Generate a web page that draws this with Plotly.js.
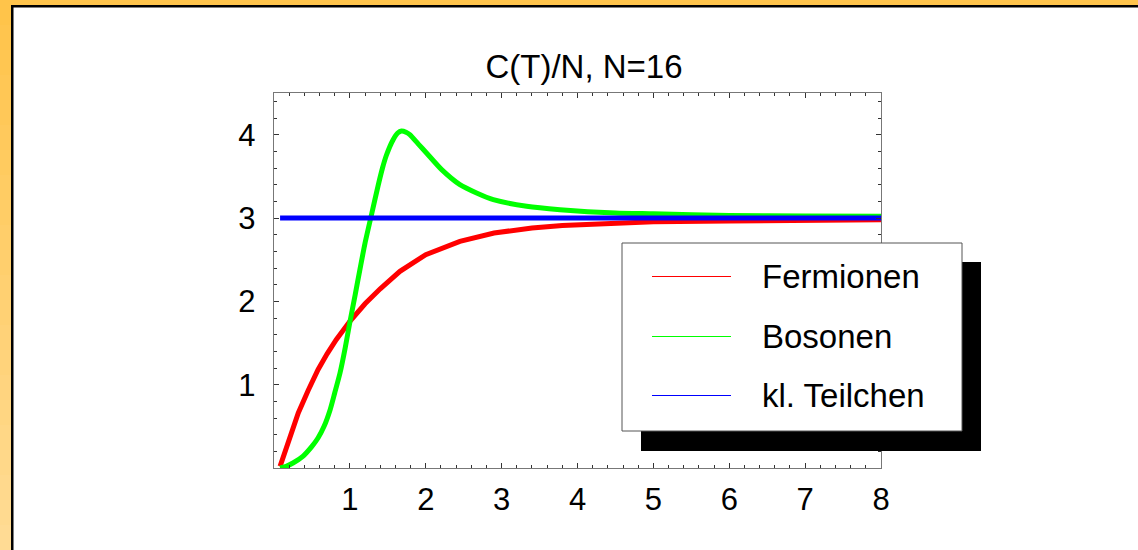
<!DOCTYPE html>
<html>
<head>
<meta charset="utf-8">
<script src="https://cdn.plot.ly/plotly-3.0.1.min.js"></script>
<style>
  html, body { margin: 0; padding: 0; background: #ffffff; }
  #chart { width: 1138px; height: 550px; }
</style>
</head>
<body>
<div id="chart"></div>
<script>
// ---- data ----
const chartTitle = "C(T)/N, N=16";
const seriesNames = ["Fermionen", "Bosonen", "kl. Teilchen"];
const seriesColors = ["#ff0000", "#00ff00", "#0000ff"];

const fermiT = [0.08, 0.2, 0.32, 0.45, 0.58, 0.7, 0.82, 1.0, 1.2, 1.4, 1.66, 2.0, 2.45, 2.9, 3.4, 3.8, 4.5, 5, 6, 7, 8];
const fermiC = [0.02, 0.35, 0.66, 0.93, 1.18, 1.37, 1.54, 1.76, 1.97, 2.15, 2.36, 2.56, 2.72, 2.82, 2.88, 2.91, 2.94, 2.955, 2.965, 2.975, 2.98];

const boseT = [0.08, 0.16, 0.25, 0.38, 0.5, 0.58, 0.66, 0.74, 0.8, 0.87, 0.94, 1.0, 1.07, 1.13, 1.2, 1.29, 1.37, 1.43, 1.48, 1.57, 1.63, 1.68, 1.74, 1.79, 1.9, 2.01, 2.21, 2.45, 2.67, 2.89, 3.33, 3.77, 4.5, 5, 6, 7, 8];
const boseC = [0.0, 0.02, 0.06, 0.14, 0.26, 0.36, 0.5, 0.7, 0.9, 1.14, 1.45, 1.75, 2.08, 2.37, 2.7, 3.06, 3.38, 3.6, 3.75, 3.94, 4.02, 4.045, 4.03, 4.0, 3.89, 3.78, 3.58, 3.40, 3.30, 3.22, 3.14, 3.10, 3.06, 3.05, 3.03, 3.025, 3.02];

const classT = [0.08, 8];
const classC = [3, 3];

const xTicks = [1, 2, 3, 4, 5, 6, 7, 8];
const yTicks = [1, 2, 3, 4];

// ---- geometry helpers (pixel -> paper) ----
const W = 1138, H = 550;
const M = { l: 274, r: 257, t: 93, b: 82 };
const PW = W - M.l - M.r, PH = H - M.t - M.b;
const px = v => (v - M.l) / PW;
const py = v => (H - M.b - v) / PH;

const traces = [
  { x: fermiT, y: fermiC, name: seriesNames[0], mode: "lines",
    line: { color: seriesColors[0], width: 5 } },
  { x: boseT, y: boseC, name: seriesNames[1], mode: "lines",
    line: { color: seriesColors[1], width: 5, shape: "spline", smoothing: 0.6 } },
  { x: classT, y: classC, name: seriesNames[2], mode: "lines",
    line: { color: seriesColors[2], width: 5 } }
];

const shapes = [];
// orange frame: top band and left band with a vertical gradient
shapes.push({ type: "rect", xref: "paper", yref: "paper", layer: "below",
  x0: px(0), x1: px(W), y0: py(0), y1: py(5.5), fillcolor: "#ffc44c", line: { width: 0 } });
const n = 22;
const c0 = [255, 196, 74], c1 = [255, 219, 148];
for (let i = 0; i < n; i++) {
  const f = i / (n - 1);
  const c = c0.map((a, k) => Math.round(a + (c1[k] - a) * f));
  shapes.push({ type: "rect", xref: "paper", yref: "paper", layer: "below",
    x0: px(0), x1: px(11.5), y0: py(H * i / n), y1: py(H * (i + 1) / n + 1),
    fillcolor: `rgb(${c[0]},${c[1]},${c[2]})`, line: { width: 0 } });
}
// black inner frame lines
shapes.push({ type: "rect", xref: "paper", yref: "paper", layer: "below",
  x0: px(11), x1: px(W), y0: py(5), y1: py(7.5), fillcolor: "#000000", line: { width: 0 } });
shapes.push({ type: "rect", xref: "paper", yref: "paper", layer: "below",
  x0: px(11), x1: px(13.5), y0: py(5), y1: py(H), fillcolor: "#000000", line: { width: 0 } });

// legend: shadow, box, samples
shapes.push({ type: "rect", xref: "paper", yref: "paper", layer: "above",
  x0: px(641), x1: px(981), y0: py(262), y1: py(451), fillcolor: "#000000", line: { width: 0 } });
shapes.push({ type: "rect", xref: "paper", yref: "paper", layer: "above",
  x0: px(622), x1: px(962), y0: py(243), y1: py(431), fillcolor: "#ffffff",
  line: { color: "#555555", width: 1 } });
const rowY = [276.5, 336.5, 395.5];
const annotations = [];
seriesNames.forEach((nm, i) => {
  shapes.push({ type: "line", xref: "paper", yref: "paper", layer: "above",
    x0: px(652), x1: px(731), y0: py(rowY[i]), y1: py(rowY[i]),
    line: { color: seriesColors[i], width: 1 } });
  annotations.push({ xref: "paper", yref: "paper", x: px(760), y: py(rowY[i]),
    xanchor: "left", yanchor: "middle", showarrow: false, text: nm,
    font: { family: "Liberation Sans, Arial, sans-serif", size: 33, color: "#000" } });
});

const axisCommon = {
  showgrid: false, zeroline: false, showline: true, linecolor: "#777777", linewidth: 1.3,
  mirror: "ticks", ticks: "inside", ticklen: 5, tickwidth: 1, tickcolor: "#333333",
  tickfont: { family: "Liberation Sans, Arial, sans-serif", size: 31, color: "#000" },
  fixedrange: true
};

const layout = {
  width: W, height: H,
  margin: M,
  paper_bgcolor: "#ffffff", plot_bgcolor: "#ffffff",
  showlegend: false,
  title: { text: chartTitle, xref: "paper", yref: "container", x: px(584), y: 1 - 66 / H,
    xanchor: "center", yanchor: "middle", pad: { t: 0, b: 0, l: 0, r: 0 },
    font: { family: "Liberation Sans, Arial, sans-serif", size: 33, color: "#000" } },
  xaxis: Object.assign({}, axisCommon, {
    range: [0, 8], tickmode: "array", tickvals: xTicks, ticktext: xTicks.map(String),
    ticklabelstandoff: 3,
    minor: { dtick: 0.2, tick0: 0, ticks: "inside", ticklen: 3, tickcolor: "#333333", showgrid: false }
  }),
  yaxis: Object.assign({}, axisCommon, {
    range: [0, 4.5], tickmode: "array", tickvals: yTicks, ticktext: yTicks.map(String),
    ticklabelstandoff: 11,
    minor: { dtick: 0.2, tick0: 0, ticks: "inside", ticklen: 3, tickcolor: "#333333", showgrid: false }
  }),
  shapes: shapes,
  annotations: annotations
};

Plotly.newPlot("chart", traces, layout, { displayModeBar: false, staticPlot: true });
</script>
</body>
</html>
